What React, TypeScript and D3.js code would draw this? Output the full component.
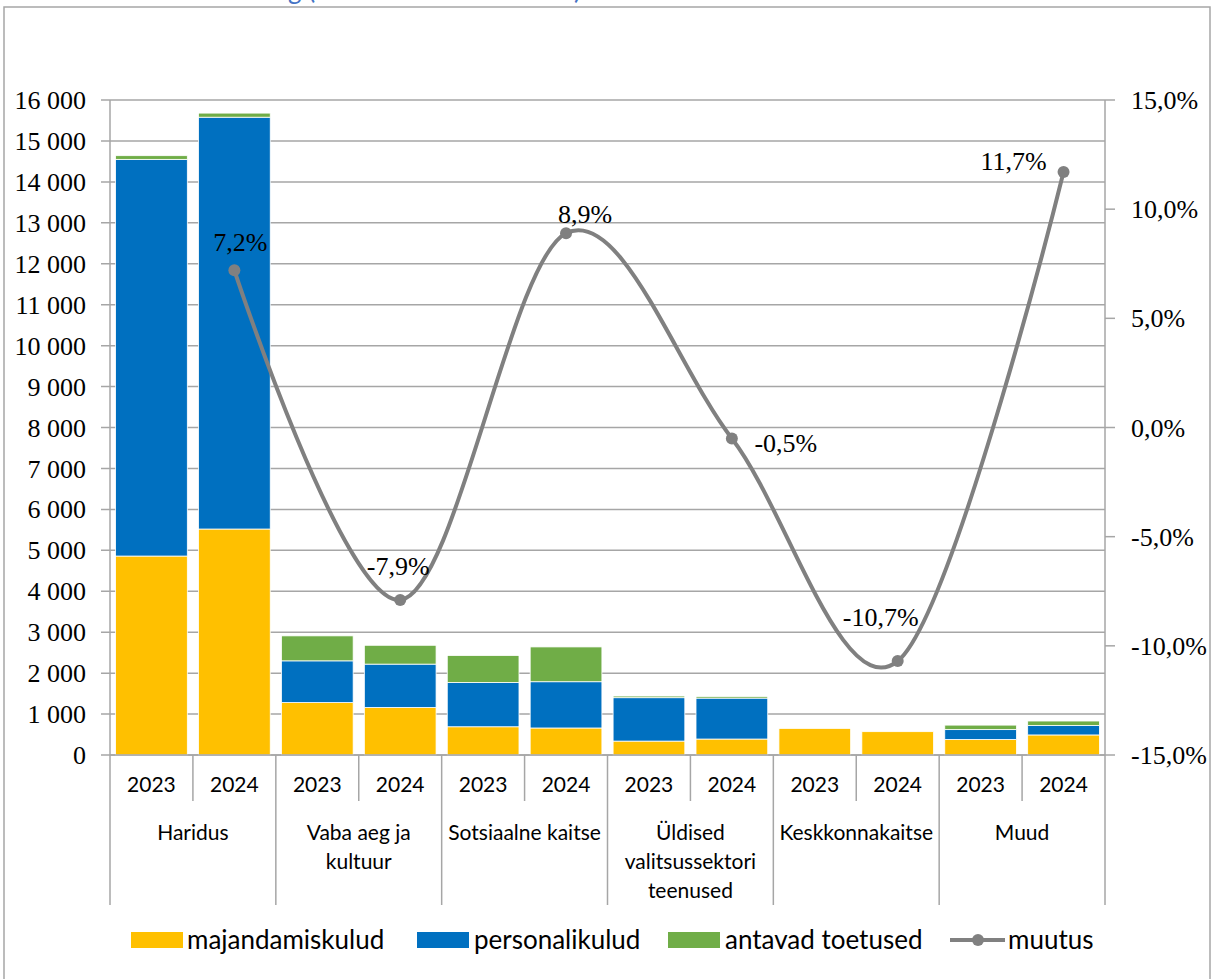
import * as d3 from 'd3';
import React from 'react';

// Andmed (tuhandetes eurodes) – loetud jooniselt
const groupLabels = [
  ['Haridus'],
  ['Vaba aeg ja', 'kultuur'],
  ['Sotsiaalne kaitse'],
  ['Üldised', 'valitsussektori', 'teenused'],
  ['Keskkonnakaitse'],
  ['Muud'],
];
const years = ['2023', '2024'];

const majandamiskulud = [4860, 5520, 1280, 1160, 690, 660, 340, 390, 650, 570, 380, 490];
const personalikulud = [9690, 10060, 1020, 1060, 1080, 1130, 1060, 1000, 0, 0, 240, 230];
const antavadToetused = [90, 100, 610, 460, 660, 850, 40, 40, 0, 0, 110, 110];
const muutus = [7.2, -7.9, 8.9, -0.5, -10.7, 11.7];

const leftTicks = d3.range(0, 16001, 1000);
const rightTicks = [-15, -10, -5, 0, 5, 10, 15];

// label placement relative to the point (dx of text centre, dy of baseline)
const labelOffsets = [
  [6, -19],
  [-2, -25],
  [19, -10],
  [54, 14],
  [-17, -35],
  [-50, -2],
];

const seriesNames = ['majandamiskulud', 'personalikulud', 'antavad toetused'];
const colors = ['#FFC000', '#0070C0', '#70AD47'];
const lineColor = '#808080';
const gridColor = '#A6A6A6';

const W = 1213;
const H = 979;
const left = 110;
const right = 1105;
const top = 100;
const bottom = 755;

const serif = "'Times New Roman', 'Liberation Serif', serif";
const sans = "Lato, 'Open Sans', sans-serif";

const fmtThousands = (v: number) => d3.format(',')(v).replace(/,/g, ' ');
const fmtPct = (v: number) => d3.format('.1f')(v).replace('.', ',').replace('−', '-') + '%';

export default function App() {
  const n = majandamiskulud.length;
  const rows = d3.range(n).map((i) => ({
    i,
    majandamiskulud: majandamiskulud[i],
    personalikulud: personalikulud[i],
    'antavad toetused': antavadToetused[i],
  }));
  const stacked = d3.stack<any>().keys(seriesNames)(rows);

  const x = d3
    .scaleBand<number>()
    .domain(d3.range(n))
    .range([left, right])
    .paddingInner(0.135)
    .paddingOuter(0.0675);
  const step = x.step();
  const y = d3.scaleLinear().domain([0, 16000]).range([bottom, top]);
  const yR = d3.scaleLinear().domain([-15, 15]).range([bottom, top]);

  const pts: [number, number][] = muutus.map((v, k) => {
    const idx = k * 2 + 1;
    return [x(idx)! + x.bandwidth() / 2, yR(v)];
  });
  const line = d3.line().curve(d3.curveCardinal.tension(0));

  const legendItems = [
    { x: 131, w: 52, tx: 187 },
    { x: 417, w: 52, tx: 474 },
    { x: 668, w: 52, tx: 725 },
  ];

  return (
    <div style={{ position: 'absolute', left: 0, top: 0 }}>
      <svg width={W} height={H} style={{ display: 'block', background: '#fff' }}>
        {/* cut-off title */}
        <text x={288} y={-1} fontFamily={sans} fontSize={26} fill="#4472C4">
          g (
        </text>
        <text x={574} y={-1} fontFamily={sans} fontSize={26} fill="#4472C4">
          )
        </text>
        <rect x={4} y={7} width={1206} height={1000} fill="none" stroke={gridColor} strokeWidth={1.5} />

        {/* gridlines */}
        {leftTicks.map((t) => (
          <g key={t}>
            <line x1={left - 9} x2={right} y1={y(t)} y2={y(t)} stroke={gridColor} strokeWidth={1.5} />
            <text
              x={86}
              y={y(t)}
              dy="0.35em"
              textAnchor="end"
              fontFamily={serif}
              fontSize={26}
              fill="#000"
            >
              {fmtThousands(t)}
            </text>
          </g>
        ))}
        {rightTicks.map((t) => (
          <g key={t}>
            <line x1={right} x2={right + 10} y1={yR(t)} y2={yR(t)} stroke={gridColor} strokeWidth={1.5} />
            <text x={1131} y={yR(t)} dy="0.35em" fontFamily={serif} fontSize={26} fill="#000">
              {fmtPct(t)}
            </text>
          </g>
        ))}

        {/* bars */}
        {stacked.map((s, si) => (
          <g key={s.key} fill={colors[si]}>
            {s.map((d, i) =>
              d[1] - d[0] > 0 ? (
                <rect
                  key={i}
                  x={x(i)}
                  y={y(d[1])}
                  width={x.bandwidth()}
                  height={y(d[0]) - y(d[1])}
                  stroke="#fff"
                  strokeWidth={0.8}
                />
              ) : null
            )}
          </g>
        ))}

        {/* axes */}
        <line x1={left} x2={left} y1={top} y2={905} stroke={gridColor} strokeWidth={1.5} />
        <line x1={right} x2={right} y1={top} y2={905} stroke={gridColor} strokeWidth={1.5} />
        <line x1={left} x2={right} y1={bottom} y2={bottom} stroke={gridColor} strokeWidth={1.5} />
        {d3.range(1, n).map((i) => (
          <line
            key={i}
            x1={left + i * step}
            x2={left + i * step}
            y1={bottom}
            y2={i % 2 === 0 ? 905 : 801}
            stroke={gridColor}
            strokeWidth={1.5}
          />
        ))}
        {d3.range(n).map((i) => (
          <text
            key={i}
            x={x(i)! + x.bandwidth() / 2}
            y={785}
            dy="0.35em"
            textAnchor="middle"
            fontFamily={sans}
            fontSize={21}
            fill="#000"
          >
            {years[i % 2]}
          </text>
        ))}
        {groupLabels.map((lines, g) => (
          <text
            key={g}
            x={left + (g * 2 + 1) * step}
            y={833}
            textAnchor="middle"
            fontFamily={sans}
            fontSize={21}
            fill="#000"
          >
            {lines.map((l, li) => (
              <tspan key={li} x={left + (g * 2 + 1) * step} y={833 + li * 29} dy="0.35em">
                {l}
              </tspan>
            ))}
          </text>
        ))}

        {/* muutus line */}
        <path d={line(pts) || ''} fill="none" stroke={lineColor} strokeWidth={4} strokeLinecap="round" />
        {pts.map((p, k) => (
          <g key={k}>
            <circle cx={p[0]} cy={p[1]} r={6} fill={lineColor} />
            <text
              x={p[0] + labelOffsets[k][0]}
              y={p[1] + labelOffsets[k][1]}
              textAnchor="middle"
              fontFamily={serif}
              fontSize={26}
              fill="#000"
            >
              {fmtPct(muutus[k])}
            </text>
          </g>
        ))}

        {/* legend */}
        {legendItems.map((it, k) => (
          <g key={k}>
            <rect x={it.x} y={932} width={it.w} height={16} fill={colors[k]} />
            <text x={it.tx} y={940} dy="0.35em" fontFamily={sans} fontSize={26} fill="#000">
              {seriesNames[k]}
            </text>
          </g>
        ))}
        <line x1={950} x2={1005} y1={940} y2={940} stroke={lineColor} strokeWidth={4} />
        <circle cx={978} cy={940} r={6} fill={lineColor} />
        <text x={1008} y={940} dy="0.35em" fontFamily={sans} fontSize={26} fill="#000">
          muutus
        </text>
      </svg>
    </div>
  );
}
